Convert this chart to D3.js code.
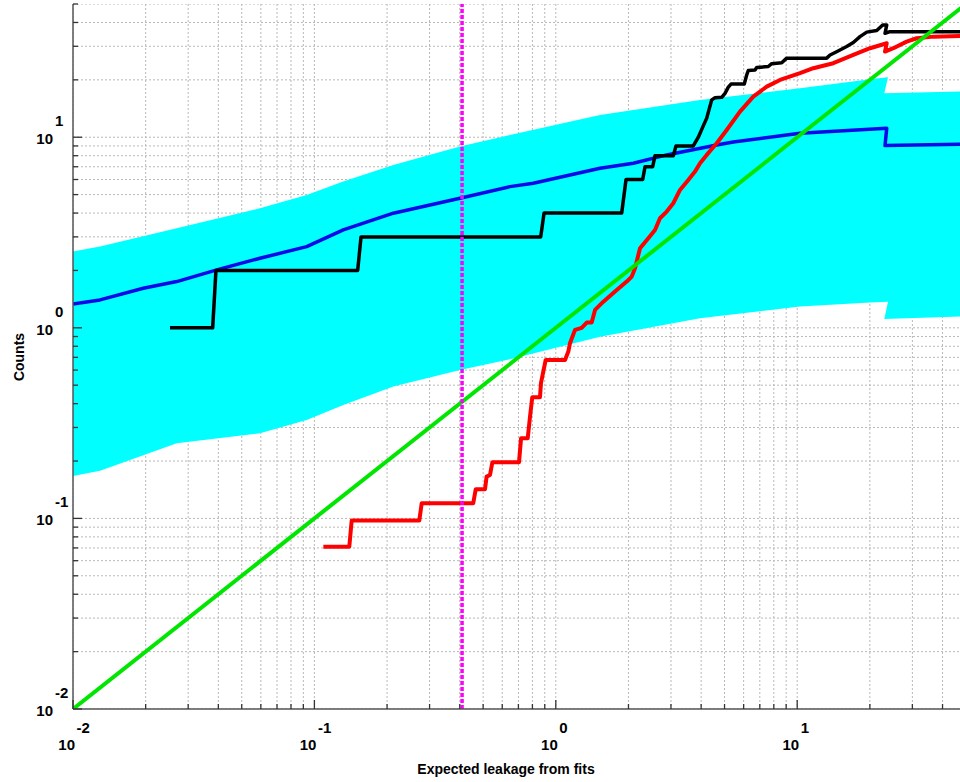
<!DOCTYPE html>
<html><head><meta charset="utf-8">
<script src="https://cdn.jsdelivr.net/npm/d3@7"></script>
<style>
body{margin:0;background:#fff}
text{font-family:"Liberation Sans",Arial,Helvetica,sans-serif;font-weight:bold;fill:#000}
</style>
</head><body>
<svg id="chart" width="960" height="782"></svg>
<script>
// ---- data ----
const bandX     = [0.01, 0.01294, 0.0269, 0.0595, 0.0929, 0.1317, 0.2123, 0.401, 0.646, 1.525, 3.958, 10.27, 20.03, 23.78, 22.95, 47.24, 60];
const bandUpper = [2.511, 2.667, 3.332, 4.241, 4.981, 5.849, 7.155, 8.927, 10.28, 13.09, 15.70, 18.07, 20.13, 20.64, 17.01, 17.35, 17.4];
const bandLower = [0.1671, 0.1781, 0.2481, 0.2799, 0.3287, 0.3939, 0.4914, 0.6014, 0.6844, 0.899, 1.123, 1.292, 1.356, 1.372, 1.113, 1.145, 1.15];

const medianX = [0.01, 0.01294, 0.01955, 0.0269, 0.0394, 0.0595, 0.0929, 0.1317, 0.2123, 0.401, 0.646, 0.807, 1.525, 2.095, 2.880, 4.640, 5.437, 10.27, 23.49, 23.11, 47.24, 60];
const medianY = [1.335, 1.401, 1.614, 1.748, 2.013, 2.318, 2.667, 3.263, 3.993, 4.786, 5.506, 5.737, 6.877, 7.304, 8.075, 9.11, 9.447, 10.50, 11.15, 9.035, 9.19, 9.2];

const observedX = [0.02522,0.0379,0.0391,0.1511,0.156,0.866,0.894,1.875,1.954,2.291,2.342,2.520,2.576,3.067,3.147,3.712,3.894,4.023,4.219,4.424,4.566,4.867,5.023,5.184,5.319,6.036,6.177,6.272,6.687,6.796,7.590,7.842,8.627,9.048,13.25,13.68,14.57,15.04,16.03,17.08,18.20,19.41,21.35,22.61,23.49,23.11,24.24,60];
const observedY = [1,1,2,2,3,3,4,4,6,6,7,7,8,8,9,9,10,11,12.6,15.7,16.1,16.2,17.0,18.3,19,19,21.2,22.4,22.5,23.2,23.5,24.3,24.6,26,26,27,28.1,28.7,29.9,31.4,33.7,35.6,36.3,38.8,38.8,35.1,35.8,35.8];

const fittedX = [0.1089,0.1395,0.1427,0.272,0.2783,0.455,0.466,0.509,0.517,0.534,0.546,0.704,0.718,0.765,0.782,0.799,0.860,0.868,0.908,1.092,1.127,1.145,1.201,1.280,1.343,1.408,1.454,1.574,1.788,1.967,2.063,2.129,2.233,2.417,2.576,2.701,2.880,3.067,3.270,3.539,3.773,3.958,4.219,4.640,5.105,5.794,6.578,7.476,8.487,10.27,11.66,14.11,17.08,20.03,23.49,23.11,25.02,28.41,31.26,36.63,47.24,60];
const fittedY = [0.0711,0.0711,0.0974,0.0974,0.1201,0.1201,0.1423,0.1423,0.1657,0.1691,0.1971,0.1971,0.2634,0.2634,0.3420,0.4324,0.4324,0.5120,0.6786,0.6786,0.7503,0.8302,0.9750,1.0,1.065,1.065,1.241,1.372,1.580,1.748,1.856,2.054,2.616,2.952,3.263,3.758,4.071,4.505,5.290,5.97,6.600,7.304,8.075,9.301,10.92,13.62,16.33,18.43,19.98,21.67,23.01,24.45,27.03,29.31,31.13,28.13,29.31,31.74,33.06,33.71,34.0,34.1];

const diagX = [0.01, 100];
const diagY = [0.01, 100];
const thresholdX = 0.409;

const xDomain = [0.01, 100];
const yDomain = [0.01, 50];
const majorTicks = [0.01, 0.1, 1, 10];
const tickExponents = ["-2", "-1", "0", "1"];
const xTitle = "Expected leakage from fits";
const yTitle = "Counts";

// ---- layout ----
const svg = d3.select("#chart");
const plotLeft = 73, plotBottom = 709, plotTop = 4, plotRight = 960;
const decX = 241.4;
const x = d3.scaleLog().domain(xDomain).range([plotLeft, plotLeft + decX * Math.log10(xDomain[1] / xDomain[0])]);
const y = d3.scaleLog().domain(yDomain).range([plotBottom, plotTop]);

const defs = svg.append("defs");
defs.append("clipPath").attr("id", "plot").append("rect")
  .attr("x", plotLeft).attr("y", plotTop).attr("width", plotRight - plotLeft).attr("height", plotBottom - plotTop);

const g = svg.append("g").attr("clip-path", "url(#plot)");

// grid
const xt = x.ticks(), yt = y.ticks();
g.selectAll("line.gx").data(xt).join("line")
  .attr("x1", d => x(d)).attr("x2", d => x(d)).attr("y1", plotTop).attr("y2", plotBottom)
  .attr("stroke", "#b8b8b8").attr("stroke-width", 1).attr("stroke-dasharray", "2,2");
g.selectAll("line.gy").data(yt).join("line")
  .attr("y1", d => y(d)).attr("y2", d => y(d)).attr("x1", plotLeft).attr("x2", plotRight)
  .attr("stroke", "#b8b8b8").attr("stroke-width", 1).attr("stroke-dasharray", "2,2");

// band
const band = bandX.map((v, i) => ({x: v, lo: bandLower[i], hi: bandUpper[i]}));
g.append("path").datum(band)
  .attr("d", d3.area().x(d => x(d.x)).y0(d => y(d.lo)).y1(d => y(d.hi)))
  .attr("fill", "#00ffff");

const line = d3.line().x(d => x(d[0])).y(d => y(d[1]));
const zip = (a, b) => a.map((v, i) => [v, b[i]]);

g.append("path").datum(zip(medianX, medianY)).attr("d", line)
  .attr("fill", "none").attr("stroke", "#0808e8").attr("stroke-width", 3.5).attr("stroke-linejoin", "round");
g.append("path").datum(zip(observedX, observedY)).attr("d", line)
  .attr("fill", "none").attr("stroke", "#000").attr("stroke-width", 3.5).attr("stroke-linejoin", "round");
g.append("path").datum(zip(fittedX, fittedY)).attr("d", line)
  .attr("fill", "none").attr("stroke", "#ff0000").attr("stroke-width", 4).attr("stroke-linejoin", "round");
g.append("path").datum(zip(diagX, diagY)).attr("d", line)
  .attr("fill", "none").attr("stroke", "#00e600").attr("stroke-width", 4);
g.append("line")
  .attr("x1", x(thresholdX)).attr("x2", x(thresholdX)).attr("y1", y(yDomain[0])).attr("y2", y(yDomain[1]))
  .attr("stroke", "#ff00ff").attr("stroke-width", 3.5).attr("stroke-dasharray", "4,2");

// axes lines
svg.append("line").attr("x1", plotLeft).attr("x2", plotLeft).attr("y1", plotTop).attr("y2", plotBottom)
  .attr("stroke", "#555").attr("stroke-width", 1.5);
svg.append("line").attr("x1", plotLeft).attr("x2", plotRight).attr("y1", plotBottom).attr("y2", plotBottom)
  .attr("stroke", "#555").attr("stroke-width", 1.5);

const isMajor = d => majorTicks.some(m => Math.abs(d / m - 1) < 1e-6);
// ticks (inward)
svg.selectAll("line.tx").data(xt.filter(d => x(d) <= plotRight)).join("line")
  .attr("x1", d => x(d)).attr("x2", d => x(d))
  .attr("y1", plotBottom).attr("y2", d => plotBottom - (isMajor(d) ? 9 : 5))
  .attr("stroke", "#333").attr("stroke-width", 1.3);
svg.selectAll("line.ty").data(yt).join("line")
  .attr("y1", d => y(d)).attr("y2", d => y(d))
  .attr("x1", plotLeft).attr("x2", d => plotLeft + (isMajor(d) ? 9 : 5))
  .attr("stroke", "#333").attr("stroke-width", 1.3);

// tick labels
majorTicks.forEach((m, i) => {
  const px = x(m);
  svg.append("text").attr("x", px + 2).attr("y", 750).attr("text-anchor", "end")
    .attr("font-size", 15).text("10");
  svg.append("text").attr("x", px + 3.5).attr("y", 733).attr("text-anchor", "start")
    .attr("font-size", 15).text(tickExponents[i]);
  const py = y(m);
  svg.append("text").attr("x", 53).attr("y", py + 7).attr("text-anchor", "end")
    .attr("font-size", 15).text("10");
  svg.append("text").attr("x", 55).attr("y", py - 11).attr("text-anchor", "start")
    .attr("font-size", 15).text(tickExponents[i]);
});

// titles
svg.append("text").attr("x", 506).attr("y", 774).attr("text-anchor", "middle")
  .attr("font-size", 14).text(xTitle);
svg.append("text").attr("transform", "translate(24,357) rotate(-90)").attr("text-anchor", "middle")
  .attr("font-size", 14).text(yTitle);
</script>
</body></html>
